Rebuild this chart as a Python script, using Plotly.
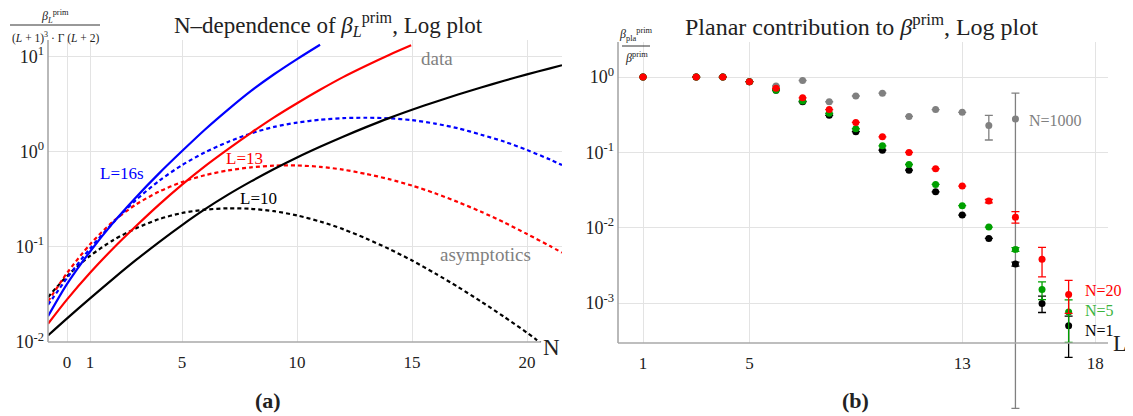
import plotly.graph_objects as go

# The page body has an 8 px margin, so the figure is drawn 8 px smaller and all
# pixel positions below are given in page pixels and converted.
PAGE_W, PAGE_H = 1133, 416
OFF = 8
FW, FH = PAGE_W - OFF, PAGE_H - OFF
FONT = "Liberation Serif"

def px(x):
    return (x - OFF) / FW

def py(y):
    return 1 - (y - OFF) / FH

# ---------------- Left panel data (values of the ratio) ----------------
N_blue_solid = [-0.83, 0, 1, 2, 3, 4, 5, 6, 7, 8, 9, 10, 11]
v_blue_solid = [0.0186, 0.0407, 0.0891, 0.178, 0.331, 0.589, 1.01, 1.70, 2.75, 4.32, 6.46, 9.33, 13.2]

N_red_solid = [-0.83, 0, 1, 2, 3, 4, 5, 6, 7, 8, 9, 10, 11, 12, 13, 14, 14.96]
v_red_solid = [0.0155, 0.028, 0.0533, 0.0959, 0.165, 0.277, 0.449, 0.703, 1.06, 1.57, 2.28, 3.21, 4.44, 6.03, 7.94, 10.3, 13.0]

N_black_solid = [-0.83, 0, 1, 2, 3, 4, 5, 6, 7, 8, 9, 10, 11, 12, 13, 14, 15, 16, 17, 18, 19, 20, 21, 21.52]
v_black_solid = [0.0117, 0.0177, 0.0287, 0.046, 0.0726, 0.112, 0.169, 0.248, 0.352, 0.485, 0.655, 0.865, 1.12, 1.43, 1.80, 2.24, 2.74, 3.31, 3.96, 4.70, 5.52, 6.44, 7.46, 8.04]

N_blue_dash = [-0.83, 0, 1, 2, 3, 4, 5, 6, 7, 8, 9, 10, 11, 12, 13, 14, 15, 16, 17, 18, 19, 20, 21, 21.52]
v_blue_dash = [0.0245, 0.047, 0.096, 0.179, 0.31, 0.492, 0.719, 0.982, 1.26, 1.55, 1.81, 2.01, 2.15, 2.24, 2.26, 2.23, 2.13, 1.96, 1.75, 1.50, 1.27, 1.035, 0.822, 0.72]

N_red_dash = [-0.83, 0, 1, 2, 3, 4, 5, 6, 7, 8, 9, 10, 11, 12, 13, 14, 15, 16, 17, 18, 19, 20, 21, 21.52]
v_red_dash = [0.0266, 0.053, 0.106, 0.184, 0.278, 0.379, 0.478, 0.564, 0.632, 0.681, 0.71, 0.713, 0.69, 0.644, 0.581, 0.512, 0.438, 0.364, 0.294, 0.233, 0.18, 0.136, 0.1016, 0.0867]

N_black_dash = [-0.83, 0, 1, 2, 3, 4, 5, 6, 7, 8, 9, 10, 11, 12, 13, 14, 15, 16, 17, 18, 19, 20, 20.4, 21.0]
v_black_dash = [0.0295, 0.0494, 0.0802, 0.117, 0.156, 0.195, 0.226, 0.245, 0.253, 0.25, 0.236, 0.213, 0.184, 0.153, 0.122, 0.0948, 0.0717, 0.0525, 0.0378, 0.0266, 0.0184, 0.0125, 0.0106, 0.0083]

left_xticks = [0, 1, 5, 10, 15, 20]
left_yticks = [0.01, 0.1, 1, 10]
left_ytext = ["10<sup>-2</sup>", "10<sup>-1</sup>", "10<sup>0</sup>", "10<sup>1</sup>"]

# ---------------- Right panel data ----------------
L_vals = [1, 3, 4, 5, 6, 7, 8, 9, 10, 11, 12, 13, 14, 15, 16, 17]
N1_vals = [1.0, 1.0, 1.0, 0.867, 0.67, 0.47, 0.31, 0.188, 0.107, 0.058, 0.030, 0.0147, 0.0072, 0.00329, 0.00099, 0.0005]
N1_errp = [0, 0, 0, 0, 0, 0, 0, 0, 0, 0, 0, 0, 0, 0.0002, 0.00025, 0.00017]
N1_errm = [0, 0, 0, 0, 0, 0, 0, 0, 0, 0, 0, 0, 0, 0.0002, 0.00024, 0.00031]

N5_vals = [1.0, 1.0, 1.0, 0.867, 0.67, 0.48, 0.33, 0.206, 0.122, 0.069, 0.0376, 0.0196, 0.0102, 0.00515, 0.00151, 0.00076]
N5_errp = [0, 0, 0, 0, 0, 0, 0, 0, 0, 0, 0, 0, 0, 0.0003, 0.0004, 0.00034]
N5_errm = [0, 0, 0, 0, 0, 0, 0, 0, 0, 0, 0, 0, 0, 0.0003, 0.0004, 0.00046]

N20_vals = [1.0, 1.0, 1.0, 0.867, 0.71, 0.53, 0.37, 0.25, 0.161, 0.100, 0.0606, 0.0357, 0.0226, 0.0138, 0.00383, 0.0013]
N20_errp = [0, 0, 0, 0, 0, 0, 0, 0, 0, 0, 0, 0, 0.0012, 0.0026, 0.00164, 0.0007]
N20_errm = [0, 0, 0, 0, 0, 0, 0, 0, 0, 0, 0, 0, 0.0012, 0.0023, 0.0016, 0.00057]

L_gray = [1, 3, 4, 5, 6, 7, 8, 9, 10, 11, 12, 13, 14, 15]
N1000_vals = [1.0, 1.0, 1.0, 0.867, 0.76, 0.90, 0.47, 0.56, 0.61, 0.30, 0.37, 0.34, 0.228, 0.277]
N1000_errp = [0, 0, 0, 0, 0, 0, 0, 0, 0, 0, 0, 0, 0.082, 0.333]
N1000_errm = [0, 0, 0, 0, 0, 0, 0, 0, 0, 0, 0, 0, 0.082, 0.27696]

right_xticks = [1, 5, 13, 18]
right_yticks = [0.001, 0.01, 0.1, 1]
right_ytext = ["10<sup>-3</sup>", "10<sup>-2</sup>", "10<sup>-1</sup>", "10<sup>0</sup>"]

BLUE, RED, BLACK, GREEN, GRAY = "#0000ff", "#ff0000", "#000000", "#00a000", "#808080"

fig = go.Figure()

def curve(x, y, color, dash):
    fig.add_trace(go.Scatter(x=x, y=y, mode="lines", xaxis="x", yaxis="y",
                             line=dict(color=color, width=2.2, dash=dash, shape="spline", smoothing=0.8),
                             showlegend=False, hoverinfo="skip"))

DASH = "4px,3px"
curve(N_black_dash, v_black_dash, BLACK, DASH)
curve(N_red_dash, v_red_dash, RED, DASH)
curve(N_blue_dash, v_blue_dash, BLUE, DASH)
curve(N_black_solid, v_black_solid, BLACK, "solid")
curve(N_red_solid, v_red_solid, RED, "solid")
curve(N_blue_solid, v_blue_solid, BLUE, "solid")

# empty trace so that the right-hand frame (x2/y2, grid and tick labels) is rendered
fig.add_trace(go.Scatter(x=[], y=[], xaxis="x2", yaxis="y2", showlegend=False))

def pts(x, y, ep, em, color):
    fig.add_trace(go.Scatter(x=x, y=y, mode="markers", xaxis="x3", yaxis="y3",
                             marker=dict(color=color, size=7),
                             error_y=dict(type="data", symmetric=False, array=ep, arrayminus=em,
                                          color=color, thickness=1.3, width=4),
                             showlegend=False))

pts(L_gray, N1000_vals, N1000_errp, N1000_errm, GRAY)
pts(L_vals, N1_vals, N1_errp, N1_errm, BLACK)
pts(L_vals, N5_vals, N5_errp, N5_errm, GREEN)
pts(L_vals, N20_vals, N20_errp, N20_errm, RED)

GRID = "#e3e3e3"
AX = dict(showline=False, zeroline=False, ticks="", gridcolor=GRID, gridwidth=1, automargin=False,
          tickfont=dict(family=FONT, size=17, color="#222"))
YT = dict(family=FONT, size=18, color="#222")

# right panel geometry; the data axes (x3/y3) have the same scale but extend below the frame
y2_top, y2_bot = 42, 343
top_log, bot_log = 0.465, -3.53
dec_px = (y2_bot - y2_top) / (top_log - bot_log)
y3_bot = 412
y3_low = top_log - (y3_bot - y2_top) / dec_px
x2_range = [0.06, 18.48]

fig.update_layout(
    width=FW, height=FH, margin=dict(l=0, r=0, t=0, b=0),
    paper_bgcolor="white", plot_bgcolor="rgba(0,0,0,0)",
    font=dict(family=FONT, color="#222"),
    xaxis=dict(AX, domain=[px(48), px(562)], range=[-0.83, 21.52],
               tickvals=left_xticks, ticklabelstandoff=8, anchor="y"),
    yaxis=dict(AX, domain=[py(342), py(40)], type="log", range=[-2, 1.17],
               tickvals=left_yticks, ticktext=left_ytext, anchor="x", tickfont=YT, ticklabelstandoff=3),
    xaxis2=dict(AX, domain=[px(618), px(1108)], range=x2_range,
                tickvals=right_xticks, ticklabelstandoff=8, anchor="y2"),
    yaxis2=dict(AX, domain=[py(y2_bot), py(y2_top)], type="log", range=[bot_log, top_log],
                tickvals=right_yticks, ticktext=right_ytext, anchor="x2", tickfont=YT, ticklabelstandoff=3),
    xaxis3=dict(domain=[px(618), px(1108)], range=x2_range, visible=False, anchor="y3",
                automargin=False, showgrid=False, zeroline=False),
    yaxis3=dict(domain=[py(y3_bot), py(y2_top)], type="log", range=[y3_low, top_log],
                visible=False, anchor="x3", automargin=False, showgrid=False, zeroline=False),
)

axc = "#a8a8a8"
def hline(x0, x1, y, color=axc, w=1.6):
    return dict(type="line", xref="paper", yref="paper", x0=px(x0), x1=px(x1), y0=py(y), y1=py(y),
                line=dict(color=color, width=w))

def vline(x, y0, y1, color=axc, w=1.6):
    return dict(type="line", xref="paper", yref="paper", x0=px(x), x1=px(x), y0=py(y0), y1=py(y1),
                line=dict(color=color, width=w))

fig.update_layout(shapes=[
    hline(48, 541, 342), vline(48, 342, 40),
    hline(618, 1108, 343), vline(618, 343, 42),
    hline(10, 100, 25, "#333", 1), hline(622, 650, 46, "#333", 1),
])

def ann(text, x, y, size, color="#222", xanchor="center"):
    fig.add_annotation(text=text, x=px(x), y=py(y), xref="paper", yref="paper",
                       showarrow=False, xanchor=xanchor, yanchor="middle",
                       font=dict(family=FONT, size=size, color=color))

ann("N–dependence of <i>β</i><sub><i>L</i></sub><sup>prim</sup>, Log plot", 328, 25, 23)
ann("Planar contribution to <i>β</i><sup>prim</sup>, Log plot", 861, 25, 24)
ann("<i>β</i><sub><i>L</i></sub><sup>prim</sup>", 55, 16, 12)
ann("(<i>L</i> + 1)<sup>3</sup> · Γ (<i>L</i> + 2)", 55, 38, 11.5)
ann("<i>β</i><sub>pla</sub><sup>prim</sup>", 636, 35, 12)
ann("<i>β</i><sup>prim</sup>", 636, 57, 12)
ann("N", 551, 347, 23)
ann("L", 1120, 343, 23)
ann("<b>(a)</b>", 268, 400, 22)
ann("<b>(b)</b>", 855, 400, 22)

ann("L=16s", 122, 173, 17, BLUE)
ann("L=13", 244, 158, 17, RED)
ann("L=10", 258, 198, 17, BLACK)
ann("data", 437, 58, 19, GRAY)
ann("asymptotics", 485, 255, 19, GRAY)

ann("N=1000", 1027, 120, 16, GRAY, xanchor="left")
ann("N=20", 1083, 290, 16, RED, xanchor="left")
ann("N=5", 1083, 310, 16, "#3cb43c", xanchor="left")
ann("N=1", 1083, 330, 16, BLACK, xanchor="left")

fig.write_html("out.html")
